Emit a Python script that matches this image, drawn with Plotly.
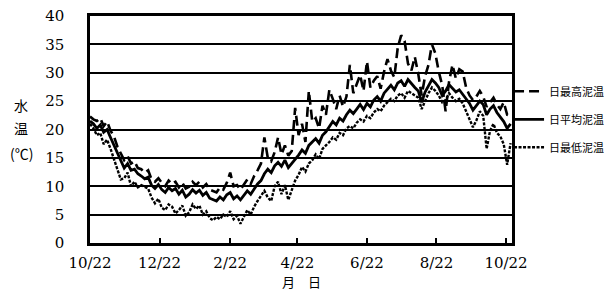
import pandas as pd
import plotly.graph_objects as go

start_date = "2009-10-22"
step = "3D"

# daily maximum (sampled every 3 days)
t_max = [22.3, 21.8, 21.5, 22.0, 20.6, 21.4, 19.8, 18.8, 17.0, 15.8,
         14.6, 15.3, 14.0, 14.4, 13.2, 13.0, 12.4, 12.8, 11.2, 10.8,
         11.4, 10.6, 10.0, 11.0, 10.4, 10.8, 9.8, 10.6, 9.6, 9.9,
         10.8, 10.2, 10.8, 9.8, 10.4, 9.4, 9.2, 8.9, 9.8, 9.4,
         10.6, 12.4, 10.0, 10.2, 9.4, 10.4, 11.2, 10.4, 11.8, 12.8,
         14.0, 18.6, 15.0, 14.4, 16.0, 18.6, 15.6, 17.2, 15.4, 16.2,
         23.8, 19.0, 21.0, 17.8, 26.8, 21.4, 22.0, 20.2, 24.2, 22.6,
         27.0, 25.4, 23.6, 26.0, 24.0, 25.8, 31.4, 26.4, 28.0, 29.6,
         26.8, 32.0, 27.4, 28.6, 29.4, 27.2, 30.2, 32.4, 30.4, 29.2,
         34.4, 36.6, 35.6, 31.6, 30.4, 32.8, 29.8, 26.0, 29.4, 31.4,
         35.0, 33.4, 30.2, 27.8, 23.2, 28.4, 31.4, 29.0, 30.6, 30.2,
         27.4, 26.0, 25.2, 25.8, 26.8, 25.8, 24.0, 24.8, 25.6, 24.4,
         23.6, 24.8, 22.6, 22.4]

# daily mean
t_mean = [21.5, 21.0, 20.2, 20.8, 19.5, 20.0, 18.6, 17.2, 15.8, 14.5,
          13.2, 14.0, 12.8, 13.0, 12.2, 11.8, 11.3, 11.6, 10.2, 9.6,
          10.3, 9.4, 8.9, 9.8, 9.2, 9.6, 8.6, 9.3, 8.1, 8.6,
          9.4, 8.8, 9.3, 8.4, 8.9, 7.9, 7.6, 7.4, 8.1, 7.6,
          8.5, 8.9, 7.8, 8.3, 7.6, 8.4, 9.2, 8.6, 9.6, 10.4,
          11.0, 12.2, 13.0, 12.4, 13.6, 14.2, 13.5, 14.6, 13.3, 14.0,
          14.9, 15.5, 16.4, 15.8, 17.2, 17.8, 18.4, 17.6, 19.0, 19.6,
          20.4, 21.4, 20.8, 22.0, 21.5, 22.6, 23.4, 22.8, 23.6, 24.4,
          23.5, 24.6, 24.0, 25.2, 25.8, 25.0, 26.4, 27.2, 27.8, 27.0,
          28.2, 28.6, 27.6, 28.8, 28.0, 27.4, 26.8, 24.8, 26.6, 27.8,
          28.8, 28.2, 27.4, 26.0, 26.8, 27.9, 27.2, 26.6, 27.0, 26.2,
          25.4, 24.6, 23.4, 24.2, 25.0, 24.4, 22.6, 23.6, 24.2, 23.0,
          22.2, 21.4, 20.2, 21.0]

# daily minimum
t_min = [21.0, 20.2, 19.0, 19.4, 17.4, 18.2, 16.6, 14.8, 12.6, 11.2,
         11.4, 12.4, 10.0, 10.8, 9.8, 10.2, 9.9, 9.6, 8.0, 7.0,
         7.8, 6.2, 5.8, 6.8, 6.4, 5.2, 5.8, 6.6, 4.8, 5.4,
         6.8, 6.0, 6.6, 5.0, 5.6, 4.4, 4.0, 4.6, 4.2, 5.0,
         4.6, 5.6, 4.2, 4.8, 3.4, 4.6, 5.8, 5.0, 6.4, 7.4,
         8.4, 9.2, 8.0, 7.4, 10.0, 10.8, 8.6, 10.2, 7.6, 9.4,
         11.0, 12.0, 13.4, 12.6, 14.0, 14.6, 15.6, 14.8, 16.6, 17.2,
         17.8, 18.6, 18.2, 19.4, 19.0, 20.2, 20.6, 20.2, 21.2, 21.8,
         21.4, 22.4, 22.0, 23.0, 23.6, 23.2, 24.2, 24.8, 25.4, 25.0,
         26.0, 26.4, 25.6, 26.8, 26.4, 26.0, 25.6, 23.6, 25.0, 26.4,
         27.4, 26.8, 26.0, 24.8, 25.2, 26.4, 25.6, 25.0, 25.4, 24.6,
         23.2, 21.8, 20.4, 21.6, 23.2, 22.4, 16.6, 19.8, 21.0, 19.4,
         18.8, 17.4, 13.8, 17.6]

series_names = ["日最高泥温", "日平均泥温", "日最低泥温"]
tick_dates = ["2009-10-22", "2009-12-22", "2010-02-22", "2010-04-22",
              "2010-06-22", "2010-08-22", "2010-10-22"]
tick_labels = ["10/22", "12/22", "2/22", "4/22", "6/22", "8/22", "10/22"]
y_ticks = [0, 5, 10, 15, 20, 25, 30, 35, 40]

dates = pd.date_range(start=start_date, periods=len(t_mean), freq=step)

fig = go.Figure()
styles = [
    dict(color="black", width=2.6, dash="10px,5px"),
    dict(color="black", width=2.8, dash="solid"),
    dict(color="black", width=2.4, dash="3px,1.5px"),
]
for name, vals, st, g in zip(series_names, [t_max, t_mean, t_min], styles, ["a", "b", "c"]):
    fig.add_trace(go.Scatter(x=dates, y=vals, mode="lines", name=name,
                             line=st, legendgroup=g))

num_font = dict(family="DejaVu Serif", size=15, color="black")

# the page body adds an 8px offset; margins compensate so the plot sits at 90..512 x 16..243
fig.update_layout(
    width=612, height=304,
    margin=dict(l=82, r=108, t=8, b=69),
    paper_bgcolor="white", plot_bgcolor="white",
    showlegend=True,
    legend=dict(x=0.993, xanchor="left", y=0.545, yanchor="middle",
                font=dict(family="Noto Sans CJK JP", size=11, color="black"),
                tracegroupgap=9, itemwidth=30, bgcolor="rgba(0,0,0,0)"),
    xaxis=dict(range=["2009-10-22", "2010-10-27 06:00"],
               tickvals=tick_dates, ticktext=tick_labels,
               ticks="inside", ticklen=5, tickwidth=1.5, tickcolor="black",
               showgrid=False, showline=True, linecolor="black", linewidth=2.5,
               mirror=True, tickfont=num_font, zeroline=False,
               ticklabelstandoff=4, automargin=False, ticklabeloverflow="allow"),
    yaxis=dict(range=[0, 40], tickvals=y_ticks, ticks="",
               showgrid=True, gridcolor="black", gridwidth=1.5,
               showline=True, linecolor="black", linewidth=2.5, mirror=True,
               tickfont=num_font, zeroline=False, ticklabelstandoff=20,
               automargin=False, ticklabeloverflow="allow"),
)

cjk = dict(family="Noto Sans CJK JP", size=14, color="black")
for txt, yy in [("水", 105), ("温", 128.5), ("(℃)", 152.5)]:
    fig.add_annotation(text=txt, xref="paper", yref="paper",
                       x=(21 - 90) / 422, y=(243 - yy) / 227,
                       showarrow=False, font=cjk, xanchor="center", yanchor="middle")
fig.add_annotation(text="月　日", xref="paper", yref="paper",
                   x=0.5, y=(243 - 281) / 227, showarrow=False,
                   font=dict(family="Noto Sans CJK JP", size=13, color="black"),
                   xanchor="center", yanchor="middle")

fig.write_html("out.html")
